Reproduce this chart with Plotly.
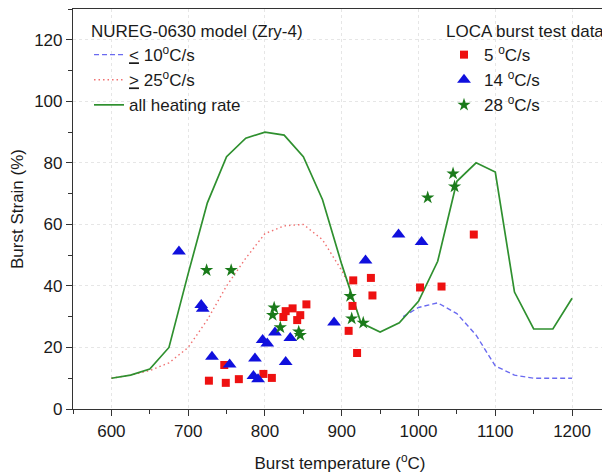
import plotly.graph_objects as go

# Model curves (NUREG-0630)
all_T = [600, 625, 650, 675, 700, 725, 750, 775, 800, 825, 850, 875, 900, 925, 950, 975,
         1000, 1025, 1050, 1075, 1100, 1125, 1150, 1175, 1200]
all_S = [10, 11, 13, 20, 44, 67, 82, 88, 90, 89, 82, 68, 47, 28, 25, 28,
         35, 48, 74, 80, 77, 38, 26, 26, 36]

fast_T = [600, 625, 650, 675, 700, 725, 750, 775, 800, 825, 850, 875, 900, 910]
fast_S = [10, 11, 12.5, 15, 20, 29, 40, 49, 57, 59.5, 60, 55, 45, 40]

slow_T = [980, 1000, 1025, 1050, 1075, 1100, 1125, 1150, 1175, 1200]
slow_S = [30, 33, 34.5, 31, 24, 14, 11, 10, 10, 10]

# LOCA burst test data
r5_T = [727, 749, 766, 747, 798, 809, 824, 827, 836, 846, 842, 854, 915, 914, 909, 920,
        938, 940, 1002, 1030, 1072]
r5_S = [9.2, 8.5, 9.7, 14.3, 11.4, 10.1, 29.9, 31.8, 32.7, 30.5, 28.9, 34, 41.8, 33.5, 25.4, 18.2,
        42.6, 36.9, 39.5, 39.8, 56.7]

r14_T = [688, 717, 719, 731, 754, 787, 785, 791, 797, 803, 813, 833, 827, 890, 931, 974, 1004]
r14_S = [51.2, 33.8, 32.6, 17, 14.5, 16.4, 10.7, 9.7, 22.4, 21.3, 24.9, 23.1, 15.3, 28.1, 48.3, 56.7, 54.3]

r28_T = [724, 756, 812, 810, 820, 844, 846, 911, 913, 928, 1012, 1045, 1047]
r28_S = [45.1, 45.1, 32.9, 30.5, 26.5, 25.1, 24, 36.7, 29.4, 28, 68.7, 76.5, 72.3]

FONT = "Liberation Sans, Arial, sans-serif"
TXT = "#1a1a1a"
FS = 17

fig = go.Figure()
fig.add_trace(go.Scatter(x=slow_T, y=slow_S, mode="lines",
                         line=dict(color="#6a6af0", width=1.4, dash="5px,3px"),
                         name="<u>&lt;</u> 10<sup>o</sup>C/s", legend="legend"))
fig.add_trace(go.Scatter(x=fast_T, y=fast_S, mode="lines",
                         line=dict(color="#f07070", width=1.4, dash="1.5px,3px"),
                         name="<u>&gt;</u> 25<sup>o</sup>C/s", legend="legend"))
fig.add_trace(go.Scatter(x=all_T, y=all_S, mode="lines",
                         line=dict(color="#2f902f", width=1.7),
                         name="all heating rate", legend="legend"))
fig.add_trace(go.Scatter(x=r5_T, y=r5_S, mode="markers",
                         marker=dict(symbol="square", color="#ee1111", size=8),
                         name="5 <sup>o</sup>C/s", legend="legend2"))
fig.add_trace(go.Scatter(x=r14_T, y=r14_S, mode="markers",
                         marker=dict(symbol="triangle-up", color="#1010dd", size=12),
                         name="14 <sup>o</sup>C/s", legend="legend2"))
fig.add_trace(go.Scatter(x=r28_T, y=r28_S, mode="markers",
                         marker=dict(symbol="star", color="#1a7a1a", size=10),
                         name="28 <sup>o</sup>C/s", legend="legend2"))

axis_common = dict(
    showline=True, linecolor="#333333", linewidth=1.2, mirror="ticks",
    ticks="outside", ticklen=6, tickwidth=1, tickcolor="#333333",
    showgrid=True, gridcolor="#e6e6e6", griddash="dot", gridwidth=1,
    zeroline=False, automargin=False,
    tickfont=dict(family=FONT, size=FS, color=TXT),
)

# The page body has an 8px default margin, so the figure is sized to fit the window.
fig.update_layout(
    width=602, height=467,
    margin=dict(l=65, r=3, t=1, b=66),
    paper_bgcolor="white", plot_bgcolor="white",
    font=dict(family=FONT, size=FS, color=TXT),
    xaxis=dict(range=[550, 1245.5], tickmode="array",
               tickvals=[600, 700, 800, 900, 1000, 1100, 1200],
               minor=dict(tickvals=[550, 650, 750, 850, 950, 1050, 1150], ticks="outside",
                          ticklen=4, tickcolor="#333333", showgrid=False),
               title=dict(text="Burst temperature (<sup>o</sup>C)", font=dict(size=FS), standoff=17),
               **axis_common),
    yaxis=dict(range=[0, 130], tickmode="array",
               tickvals=[0, 20, 40, 60, 80, 100, 120],
               minor=dict(tickvals=[10, 30, 50, 70, 90, 110, 130], ticks="outside",
                          ticklen=4, tickcolor="#333333", showgrid=False),
               title=dict(text="Burst Strain (%)", font=dict(size=FS), standoff=8),
               **axis_common),
    legend=dict(x=0.03, y=0.985, xanchor="left", yanchor="top",
                bgcolor="rgba(0,0,0,0)", borderwidth=0,
                tracegroupgap=0,
                title=dict(text="NUREG-0630 model (Zry-4)", font=dict(size=FS)),
                font=dict(family=FONT, size=FS, color=TXT)),
    legend2=dict(x=1.0, y=0.985, xanchor="right", yanchor="top",
                 bgcolor="rgba(0,0,0,0)", borderwidth=0,
                 title=dict(text="LOCA burst test data", font=dict(size=FS)),
                 font=dict(family=FONT, size=FS, color=TXT)),
)

fig.write_html("out.html")
